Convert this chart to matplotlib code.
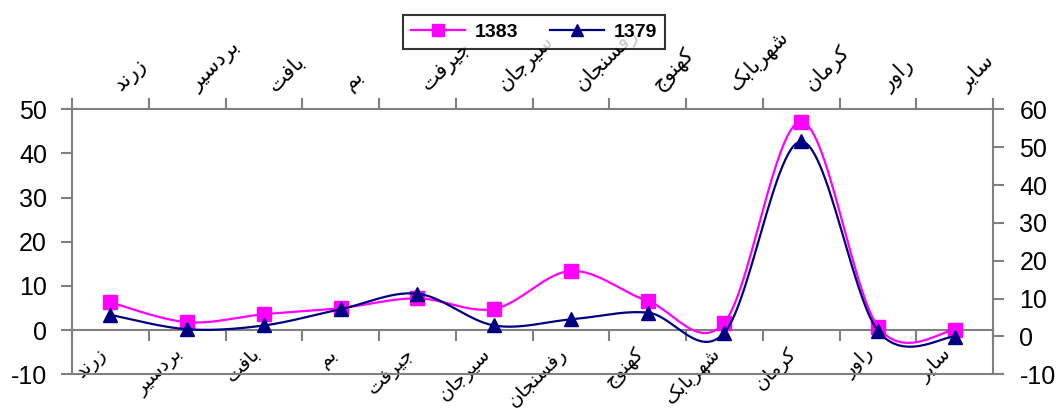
import numpy as np
import matplotlib
matplotlib.use("Agg")
import matplotlib.pyplot as plt
from matplotlib.lines import Line2D

# ---------------- data ----------------
categories = ['زرند', 'بردسیر', 'بافت', 'بم', 'جیرفت', 'سیرجان',
              'رفسنجان', 'کهنوج', 'شهربابک', 'کرمان', 'راور', 'سایر']
series_1383 = [6.3, 1.8, 3.6, 5.0, 7.2, 4.8, 13.4, 6.6, 1.7, 47.2, 0.8, 0.0]
series_1379 = [5.7, 1.9, 2.9, 7.2, 11.3, 2.9, 4.5, 6.3, 1.0, 51.5, 1.5, -0.1]
left_ticks = [-10, 0, 10, 20, 30, 40, 50]
right_ticks = [-10, 0, 10, 20, 30, 40, 50, 60]
legend_labels = ['1383', '1379']

# ------------- Persian shaping (presentation forms, visual order) -------------
FORMS = {
    'ا': ('\uFE8D', '\uFE8E', None, None),
    'ب': ('\uFE8F', '\uFE90', '\uFE91', '\uFE92'),
    'ت': ('\uFE95', '\uFE96', '\uFE97', '\uFE98'),
    'ج': ('\uFE9D', '\uFE9E', '\uFE9F', '\uFEA0'),
    'د': ('\uFEA9', '\uFEAA', None, None),
    'ر': ('\uFEAD', '\uFEAE', None, None),
    'ز': ('\uFEAF', '\uFEB0', None, None),
    'س': ('\uFEB1', '\uFEB2', '\uFEB3', '\uFEB4'),
    'ش': ('\uFEB5', '\uFEB6', '\uFEB7', '\uFEB8'),
    'ف': ('\uFED1', '\uFED2', '\uFED3', '\uFED4'),
    'م': ('\uFEE1', '\uFEE2', '\uFEE3', '\uFEE4'),
    'ن': ('\uFEE5', '\uFEE6', '\uFEE7', '\uFEE8'),
    'ه': ('\uFEE9', '\uFEEA', '\uFEEB', '\uFEEC'),
    'و': ('\uFEED', '\uFEEE', None, None),
    'ی': ('\uFBFC', '\uFBFD', '\uFBFE', '\uFBFF'),
    'ک': ('\uFB8E', '\uFB8F', '\uFB90', '\uFB91'),
}


def shape(word):
    out = []
    n = len(word)
    for i, ch in enumerate(word):
        f = FORMS.get(ch)
        if f is None:
            out.append(ch)
            continue
        prev = word[i - 1] if i > 0 else None
        nxt = word[i + 1] if i < n - 1 else None
        cp = prev is not None and prev in FORMS and FORMS[prev][2] is not None
        cn = f[2] is not None and nxt is not None and nxt in FORMS
        if cp and cn:
            g = f[3]
        elif cp:
            g = f[1]
        elif cn:
            g = f[2]
        else:
            g = f[0]
        out.append(g)
    return ''.join(reversed(out))


def smooth(xs, ys, n=30):
    xs = np.asarray(xs, float)
    ys = np.asarray(ys, float)
    P = np.column_stack([xs, ys])
    m = len(P)
    pts = []
    for i in range(m - 1):
        p0 = P[i - 1] if i > 0 else P[i]
        p1 = P[i]
        p2 = P[i + 1]
        p3 = P[i + 2] if i + 2 < m else P[i + 1]
        c1 = p1 + (p2 - p0) / 6.0
        c2 = p2 - (p3 - p1) / 6.0
        t = np.linspace(0, 1, n)[:, None]
        seg = ((1 - t) ** 3) * p1 + 3 * ((1 - t) ** 2) * t * c1 + 3 * (1 - t) * t ** 2 * c2 + t ** 3 * p2
        pts.append(seg if i == 0 else seg[1:])
    pts = np.vstack(pts)
    return pts[:, 0], pts[:, 1]


plt.rcParams['font.family'] = ['Liberation Sans', 'DejaVu Sans']

W, H = 1059, 412
fig = plt.figure(figsize=(W / 100, H / 100), dpi=100)
ax = fig.add_axes([72 / W, 1 - 374.3 / H, (993 - 72) / W, (374.3 - 109.3) / H])
ax2 = ax.twinx()

gray = '#808080'
magenta = '#FF00FF'
navy = '#000080'

x = np.arange(len(categories))

ax.set_xlim(-0.5, len(categories) - 0.5)
ax.set_ylim(-10, 50)
ax2.set_ylim(-10, 60)

# smooth lines and markers
sx, sy = smooth(x, series_1383)
ax.plot(sx, sy, color=magenta, lw=1.6, zorder=3)
ax.plot(x, series_1383, ls='none', marker='s', ms=9.5, color=magenta, zorder=4)
tx, ty = smooth(x, series_1379)
ax2.plot(tx, ty, color=navy, lw=1.6, zorder=3)
ax2.plot(x, series_1379, ls='none', marker='^', ms=10, color=navy, zorder=4)

# spines
ax.spines['bottom'].set_position(('data', 0))
for s in ['left', 'bottom', 'top']:
    ax.spines[s].set_color(gray)
    ax.spines[s].set_linewidth(1.5)
ax.spines['right'].set_visible(False)
for s in ['left', 'top']:
    ax2.spines[s].set_visible(False)
for s in ['right', 'bottom']:
    ax2.spines[s].set_color(gray)
    ax2.spines[s].set_linewidth(1.5)

# y ticks
ax.set_yticks(left_ticks)
ax.set_yticklabels([str(v) for v in left_ticks])
ax.tick_params(axis='y', direction='out', length=8, width=1.5, color=gray,
               labelsize=18, pad=10)
ax2.set_yticks(right_ticks)
ax2.set_yticklabels([str(v) for v in right_ticks])
ax2.tick_params(axis='y', direction='out', length=8, width=1.5, color=gray,
                labelsize=18, pad=11)
ax2.tick_params(axis='x', bottom=False, top=False, labelbottom=False, labeltop=False)

# x major ticks at category boundaries, labels on minor ticks at centres
ax.set_xticks(np.arange(-0.5, len(categories), 1.0))
ax.set_xticklabels([])
ax.tick_params(axis='x', which='major', direction='out', length=8, width=1.5,
               color=gray, top=True, bottom=True, labelbottom=False, labeltop=False)
shaped = [shape(c) for c in categories]
ax.set_xticks(x, minor=True)
ax.set_xticklabels(shaped, minor=True)
ax.tick_params(axis='x', which='minor', length=0, top=True, bottom=True,
               labeltop=True, labelbottom=True)
for t in ax.xaxis.get_minor_ticks():
    t.label1.set_fontfamily(['DejaVu Sans'])
    t.label1.set_fontsize(14)
    t.label1.set_rotation(45)
    t.label1.set_ha('right')
    t.label1.set_va('top')
    t.label2.set_fontfamily(['DejaVu Sans'])
    t.label2.set_fontsize(15)
    t.label2.set_rotation(45)
    t.label2.set_ha('left')
    t.label2.set_va('bottom')
ax.tick_params(axis='x', which='minor', pad=10)

# legend
handles = [Line2D([], [], color=magenta, lw=1.6, marker='s', ms=8),
           Line2D([], [], color=navy, lw=1.6, marker='^', ms=8)]
leg = fig.legend(handles, legend_labels, ncol=2, loc='center',
                 bbox_to_anchor=(534 / W, 1 - 32 / H), frameon=True, fancybox=False,
                 edgecolor='black', prop={'weight': 'bold', 'size': 14},
                 handlelength=2.8, columnspacing=1.6, borderpad=0.4, handletextpad=0.5)
leg.get_frame().set_linewidth(1.5)

fig.savefig('out.png', dpi=100)
